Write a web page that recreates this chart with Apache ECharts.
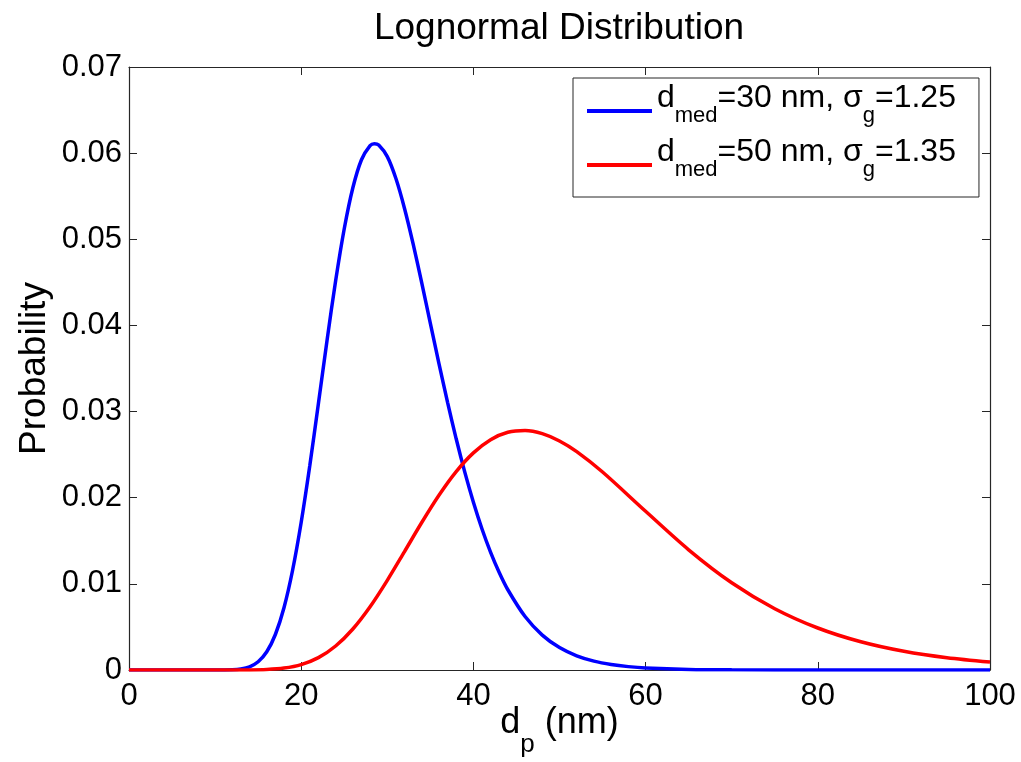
<!DOCTYPE html>
<html>
<head>
<meta charset="utf-8">
<script src="https://cdn.jsdelivr.net/npm/echarts@6/dist/echarts.min.js"></script>
<style>
html,body{margin:0;padding:0;background:#fff;}
#chart{width:1021px;height:762px;}
</style>
</head>
<body>
<div id="chart"></div>
<script>
// ---- data ----
var titleText = 'Lognormal Distribution';
var yAxisTitle = 'Probability';
var xTickLabels = ['0', '20', '40', '60', '80', '100'];
var yTickLabels = ['0', '0.01', '0.02', '0.03', '0.04', '0.05', '0.06', '0.07'];

var dmedValues = ['30', '50'];
var sigmaValues = ['1.25', '1.35'];
var seriesNames = ['dmed=30 nm, σg=1.25', 'dmed=50 nm, σg=1.35'];
var seriesColors = ['#0000ff', '#ff0000'];

var dpBlue = [0, 10, 12, 13, 14, 15, 16, 17, 18, 19, 20, 21, 22, 23, 24, 25, 26, 27, 28, 28.5, 29, 30,
  31, 32, 33, 34, 35, 36, 37, 38, 39, 40, 41, 42, 43, 44, 46, 48, 50, 52, 54, 56, 58, 60, 65, 70, 80, 90, 100];
var probBlue = [0, 0.000001, 0.0000325, 0.000122, 0.000374, 0.000957, 0.002113, 0.004121, 0.007229, 0.011581,
  0.01715, 0.023734, 0.03093, 0.03826, 0.04518, 0.051219, 0.05598, 0.059232, 0.06087, 0.061097, 0.060943, 0.0596,
  0.057054, 0.05358, 0.049455, 0.04493, 0.040239, 0.03557, 0.031068, 0.02684, 0.022966, 0.01947, 0.016369,
  0.01366, 0.011317, 0.009315, 0.006205, 0.004053, 0.002603, 0.001648, 0.001031, 0.000639, 0.000392, 0.000239,
  0.000068, 0.000019, 0.000001, 0, 0];

var dpRed = [0, 10, 14, 16, 18, 20, 22, 24, 26, 28, 30, 32, 34, 36, 38, 40, 42, 44, 46, 48, 50, 52, 55,
  60, 65, 70, 75, 80, 85, 90, 95, 100];
var probRed = [0, 0, 0.000012, 0.000062, 0.000225, 0.000629, 0.001433, 0.002783, 0.004761, 0.007343, 0.010409,
  0.013749, 0.017121, 0.020283, 0.023029, 0.025206, 0.026736, 0.027592, 0.027805, 0.02744, 0.026587, 0.025347,
  0.022981, 0.018422, 0.013956, 0.010129, 0.007115, 0.004875, 0.003276, 0.00217, 0.001421, 0.000923];

function zip(xs, ys) {
  var out = [];
  for (var i = 0; i < xs.length; i++) out.push([xs[i], ys[i]]);
  return out;
}

var FONT = '"Liberation Sans", Arial, Helvetica, sans-serif';
var AX = '#262626';

var chart = echarts.init(document.getElementById('chart'), null, {renderer: 'canvas'});

var baseX = {
  type: 'value', min: 0, max: 100, interval: 20,
  nameMoveOverlap: false,
  axisLine: {show: true, onZero: false, lineStyle: {color: AX, width: 1.2}},
  axisTick: {show: true, inside: true, length: 8, lineStyle: {color: AX, width: 1}},
  splitLine: {show: false}
};
var baseY = {
  type: 'value', min: 0, max: 0.07, interval: 0.01,
  nameMoveOverlap: false,
  axisLine: {show: true, onZero: false, lineStyle: {color: AX, width: 1.2}},
  axisTick: {show: true, inside: true, length: 8, lineStyle: {color: AX, width: 1}},
  splitLine: {show: false}
};

var option = {
  animation: false,
  backgroundColor: '#ffffff',
  title: {
    text: titleText, left: 554, textAlign: 'center', top: 5,
    textStyle: {fontFamily: FONT, fontSize: 37, fontWeight: 'normal', color: '#000'}
  },
  grid: {left: 129, right: 31, top: 67, bottom: 92, containLabel: false, outerBoundsMode: 'none'},
  xAxis: [
    Object.assign({}, baseX, {
      position: 'bottom',
      axisLabel: {
        fontFamily: FONT, fontSize: 31, color: '#000', margin: 11,
        formatter: function (v, i) { return xTickLabels[i]; }
      },
      name: '{t|d}{s|p}{t| (nm)}',
      nameLocation: 'middle', nameGap: 31,
      nameTextStyle: {
        fontFamily: FONT, color: '#000',
        rich: {
          t: {fontFamily: FONT, fontSize: 36, color: '#000', height: 44, lineHeight: 44},
          s: {fontFamily: FONT, fontSize: 26, color: '#000', height: 1, lineHeight: 44, padding: [43, 0, 0, 0]}
        }
      }
    }),
    Object.assign({}, baseX, {position: 'top', axisLabel: {show: false}})
  ],
  yAxis: [
    Object.assign({}, baseY, {
      position: 'left',
      axisLabel: {
        fontFamily: FONT, fontSize: 31, color: '#000', margin: 7,
        formatter: function (v, i) { return yTickLabels[i]; }
      },
      name: yAxisTitle, nameLocation: 'middle', nameGap: 76,
      nameTextStyle: {fontFamily: FONT, fontSize: 37, color: '#000'}
    }),
    Object.assign({}, baseY, {position: 'right', axisLabel: {show: false}})
  ],
  legend: {
    orient: 'vertical', left: 573, top: 78,
    padding: [4, 23, 12, 14],
    itemGap: 5, itemWidth: 65, itemHeight: 4, icon: 'rect',
    backgroundColor: '#fff', borderColor: AX, borderWidth: 1, borderRadius: 0,
    data: seriesNames,
    formatter: function (name) {
      var i = seriesNames.indexOf(name);
      return '{t|d}{s|med}{t|=' + dmedValues[i] + ' nm, σ}{s|g}{t|=' + sigmaValues[i] + '}';
    },
    textStyle: {
      fontFamily: FONT, color: '#000',
      rich: {
        t: {fontFamily: FONT, fontSize: 32, color: '#000', height: 14, lineHeight: 40, padding: [0, 0, 26, 0]},
        s: {fontFamily: FONT, fontSize: 22, color: '#000', height: 20, lineHeight: 40, padding: [9, 0, 0, 0]}
      }
    }
  },
  series: [
    {
      name: seriesNames[0], type: 'line', xAxisIndex: 0, yAxisIndex: 0,
      data: zip(dpBlue, probBlue), smooth: 0.3, symbol: 'none', clip: true,
      lineStyle: {color: seriesColors[0], width: 3.5}, itemStyle: {color: seriesColors[0]}
    },
    {
      name: seriesNames[1], type: 'line', xAxisIndex: 0, yAxisIndex: 0,
      data: zip(dpRed, probRed), smooth: 0.3, symbol: 'none', clip: true,
      lineStyle: {color: seriesColors[1], width: 3.5}, itemStyle: {color: seriesColors[1]}
    }
  ]
};
chart.setOption(option);
</script>
</body>
</html>
